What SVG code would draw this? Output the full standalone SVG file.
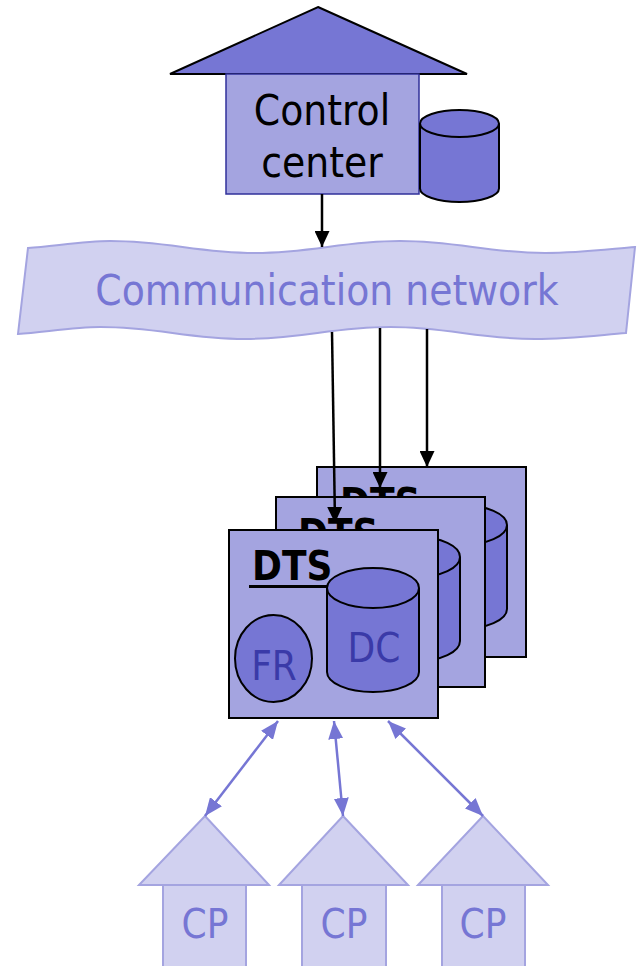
<svg xmlns="http://www.w3.org/2000/svg" width="642" height="966" viewBox="0 0 642 966">
<defs>
<style>
.lbl{font-family:"DejaVu Sans Condensed","DejaVu Sans",sans-serif;font-stretch:condensed;font-size:42px}
.sm{font-size:40px}
.dark{fill:#7676d4;stroke:#000;stroke-width:2}
.pale{fill:#d1d1f0;stroke:#a4a4e0;stroke-width:2}
.box{fill:#a4a4e0;stroke:#000;stroke-width:2}
.blk{stroke:#000;stroke-width:2.5;fill:none}
.pur{stroke:#7676d4;stroke-width:2.5;fill:none}
</style>
<marker id="ab" markerUnits="userSpaceOnUse" markerWidth="16" markerHeight="15" refX="16" refY="7.5" orient="auto" viewBox="0 0 16 15"><path d="M0,0L16,7.5L0,15z" fill="#000"/></marker>
<marker id="ap" markerUnits="userSpaceOnUse" markerWidth="18" markerHeight="15" refX="18" refY="7.5" orient="auto-start-reverse" viewBox="0 0 18 15"><path d="M0,0L18,7.5L0,15z" fill="#7676d4"/></marker>
</defs>

<g id="control-center">
<polygon points="318,7 467,74 170,74" fill="#7676d4" stroke="#000" stroke-width="2"/>
<rect x="226" y="74" width="193" height="120" fill="#a4a4e0" stroke="#30309a" stroke-width="1.5"/>
<text class="lbl" x="322" y="125" text-anchor="middle" fill="#000">Control</text>
<text class="lbl" x="322" y="177" text-anchor="middle" fill="#000">center</text>
<path class="dark" d="M420,123.5 V188.5 A39.5,13.5 0 0 0 499,188.5 V123.5"/>
<ellipse class="dark" cx="459.5" cy="123.5" rx="39.5" ry="13.5"/>
</g>

<g id="network">
<path d="M28,248 C55,246 85,241 110,241 C168,241 197,253 255,253 C313,253 342,241 400,241 C458,241 487,253 545,253 C580,253 610,249 635,247 L626,333 C600,335 570,339 535,339 C477,339 448,327 390,327 C332,327 303,339 245,339 C187,339 158,327 100,327 C75,327 45,332 18,334 Z" fill="#d1d1f0" stroke="#a4a4e0" stroke-width="2"/>
<text class="lbl" x="327" y="305" text-anchor="middle" fill="#7676d4">Communication network</text>
</g>

<g id="dts-3">
<rect class="box" x="317" y="467" width="209" height="190"/>
<text class="lbl sm" x="340" y="517" font-weight="bold" fill="#000">DTS</text>
<rect x="337" y="522" width="86" height="3" fill="#000"/>
<path class="dark" d="M415,525 V609 A46,20 0 0 0 507,609 V525"/>
<ellipse class="dark" cx="461" cy="525" rx="46" ry="20"/>
</g>

<g id="dts-2">
<rect class="box" x="276" y="497" width="209" height="190"/>
<text class="lbl sm" x="298" y="548" font-weight="bold" fill="#000">DTS</text>
<rect x="295" y="553" width="86" height="3" fill="#000"/>
<path class="dark" d="M374,557 V641 A43,20 0 0 0 460,641 V557"/>
<ellipse class="dark" cx="417" cy="557" rx="43" ry="20"/>
</g>

<g id="dts-1">
<rect class="box" x="229" y="530" width="209" height="188"/>
<text class="lbl sm" x="252" y="580" font-weight="bold" fill="#000">DTS</text>
<rect x="249" y="585" width="86" height="3" fill="#000"/>
<path class="dark" d="M327,588 V672 A46,20 0 0 0 419,672 V588"/>
<ellipse class="dark" cx="373" cy="588" rx="46" ry="20"/>
<text class="lbl sm" x="374" y="662" text-anchor="middle" fill="#3a3aa8">DC</text>
<ellipse class="dark" cx="273.5" cy="658.5" rx="38.5" ry="43.5"/>
<text class="lbl sm" x="274" y="680" text-anchor="middle" fill="#3a3aa8">FR</text>
</g>

<g id="cp-1">
<rect class="pale" x="163" y="885" width="83" height="90"/>
<polygon class="pale" points="205,816 269,885 139,885"/>
<text class="lbl sm" x="205" y="938" text-anchor="middle" fill="#7676d4">CP</text>
</g>
<g id="cp-2">
<rect class="pale" x="302" y="885" width="84" height="90"/>
<polygon class="pale" points="343,816 408,885 279,885"/>
<text class="lbl sm" x="344" y="938" text-anchor="middle" fill="#7676d4">CP</text>
</g>
<g id="cp-3">
<rect class="pale" x="442" y="885" width="83" height="90"/>
<polygon class="pale" points="483,816 548,885 418,885"/>
<text class="lbl sm" x="483" y="938" text-anchor="middle" fill="#7676d4">CP</text>
</g>

<g id="connectors">
<line class="blk" x1="322" y1="194" x2="322" y2="247" marker-end="url(#ab)"/>
<line class="blk" x1="332" y1="332" x2="335" y2="523" marker-end="url(#ab)"/>
<line class="blk" x1="380" y1="328" x2="380" y2="488" marker-end="url(#ab)"/>
<line class="blk" x1="427" y1="329" x2="427" y2="467" marker-end="url(#ab)"/>
<line class="pur" x1="278" y1="721" x2="205" y2="816" marker-start="url(#ap)" marker-end="url(#ap)"/>
<line class="pur" x1="334" y1="721" x2="343" y2="816" marker-start="url(#ap)" marker-end="url(#ap)"/>
<line class="pur" x1="388" y1="721" x2="483" y2="816" marker-start="url(#ap)" marker-end="url(#ap)"/>
</g>
</svg>
